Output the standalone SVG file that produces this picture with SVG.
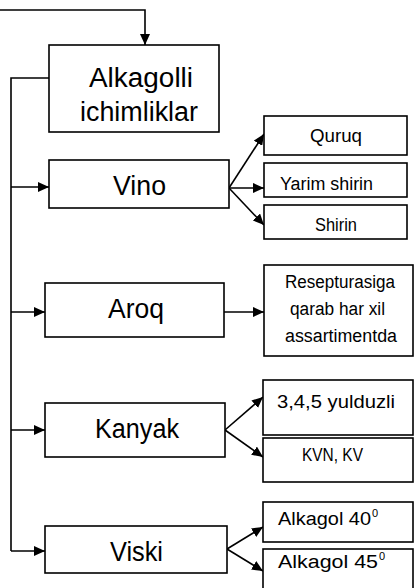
<svg xmlns="http://www.w3.org/2000/svg" width="415" height="588" viewBox="0 0 415 588">
  <style>
    .box { fill: #ffffff; stroke: #000000; stroke-width: 1.6; }
    .big { font-family: "Liberation Sans", Arial, sans-serif; font-size: 27px; fill: #000000; }
    .small { font-family: "Liberation Sans", Arial, sans-serif; font-size: 18px; fill: #000000; }
    .sup { font-family: "Liberation Sans", Arial, sans-serif; font-size: 11px; fill: #000000; }
    .wire { fill: none; stroke: #000000; stroke-width: 1.6; }
  </style>
  <defs>
    <marker id="arrow" markerUnits="userSpaceOnUse" markerWidth="11" markerHeight="10" refX="11" refY="5" orient="auto">
      <path d="M0,0 L11,5 L0,10 Z" fill="#000000"/>
    </marker>
  </defs>
  <rect width="415" height="588" fill="#ffffff"/>

  <!-- connectors -->
  <g id="connectors">
    <path class="wire" d="M0,10 H145 V45" marker-end="url(#arrow)"/>
    <path class="wire" d="M49,78 H11 V551"/>
    <line class="wire" x1="11" y1="187" x2="49" y2="187" marker-end="url(#arrow)"/>
    <line class="wire" x1="11" y1="312" x2="45" y2="312" marker-end="url(#arrow)"/>
    <line class="wire" x1="11" y1="430" x2="45" y2="430" marker-end="url(#arrow)"/>
    <line class="wire" x1="11" y1="551" x2="45" y2="551" marker-end="url(#arrow)"/>
    <!-- Vino branches -->
    <line class="wire" x1="229" y1="188" x2="264" y2="134" marker-end="url(#arrow)"/>
    <line class="wire" x1="229" y1="188" x2="264" y2="188" marker-end="url(#arrow)"/>
    <line class="wire" x1="229" y1="188" x2="264" y2="225" marker-end="url(#arrow)"/>
    <!-- Aroq branch -->
    <line class="wire" x1="224" y1="312" x2="264" y2="312" marker-end="url(#arrow)"/>
    <!-- Kanyak branches -->
    <line class="wire" x1="225" y1="430" x2="263" y2="397" marker-end="url(#arrow)"/>
    <line class="wire" x1="225" y1="430" x2="263" y2="457" marker-end="url(#arrow)"/>
    <!-- Viski branches -->
    <line class="wire" x1="227" y1="549" x2="263" y2="527" marker-end="url(#arrow)"/>
    <line class="wire" x1="227" y1="549" x2="263" y2="571" marker-end="url(#arrow)"/>
  </g>

  <g id="alkagolli">
    <rect class="box" x="49" y="45" width="170" height="87"/>
    <text class="big" x="89" y="87" textLength="104" lengthAdjust="spacingAndGlyphs">Alkagolli</text>
    <text class="big" x="80" y="121" textLength="118" lengthAdjust="spacingAndGlyphs">ichimliklar</text>
  </g>
  <g id="vino">
    <rect class="box" x="49" y="160" width="180" height="48"/>
    <text class="big" x="113" y="195" textLength="53" lengthAdjust="spacingAndGlyphs">Vino</text>
  </g>
  <g id="aroq">
    <rect class="box" x="45" y="283" width="179" height="54"/>
    <text class="big" x="108" y="318" textLength="56" lengthAdjust="spacingAndGlyphs">Aroq</text>
  </g>
  <g id="kanyak">
    <rect class="box" x="45" y="403" width="180" height="54"/>
    <text class="big" x="95" y="438" textLength="84" lengthAdjust="spacingAndGlyphs">Kanyak</text>
  </g>
  <g id="viski">
    <rect class="box" x="45" y="526" width="182" height="47"/>
    <text class="big" x="110" y="561" textLength="53" lengthAdjust="spacingAndGlyphs">Viski</text>
  </g>

  <g id="quruq">
    <rect class="box" x="264" y="116" width="143" height="39"/>
    <text class="small" x="310" y="142" textLength="52" lengthAdjust="spacingAndGlyphs">Quruq</text>
  </g>
  <g id="yarim-shirin">
    <rect class="box" x="264" y="163" width="143" height="34"/>
    <text class="small" x="280" y="190" textLength="93" lengthAdjust="spacingAndGlyphs">Yarim shirin</text>
  </g>
  <g id="shirin">
    <rect class="box" x="264" y="205" width="143" height="34"/>
    <text class="small" x="315" y="231" textLength="42" lengthAdjust="spacingAndGlyphs">Shirin</text>
  </g>
  <g id="resepturasiga">
    <rect class="box" x="264" y="265" width="149" height="91"/>
    <text class="small" x="285" y="288" textLength="110" lengthAdjust="spacingAndGlyphs">Resepturasiga</text>
    <text class="small" x="290" y="315" textLength="95" lengthAdjust="spacingAndGlyphs">qarab har xil</text>
    <text class="small" x="285" y="342" textLength="112" lengthAdjust="spacingAndGlyphs">assartimentda</text>
  </g>
  <g id="yulduzli">
    <rect class="box" x="263" y="380" width="150" height="55"/>
    <text class="small" x="277" y="408" textLength="118" lengthAdjust="spacingAndGlyphs">3,4,5 yulduzli</text>
  </g>
  <g id="kvn-kv">
    <rect class="box" x="263" y="438" width="150" height="44"/>
    <text class="small" x="302" y="461" textLength="61" lengthAdjust="spacingAndGlyphs">KVN, KV</text>
  </g>
  <g id="alkagol-40">
    <rect class="box" x="263" y="502" width="150" height="40"/>
    <text class="small" x="278" y="525" textLength="93" lengthAdjust="spacingAndGlyphs">Alkagol 40</text>
    <text class="sup" x="372" y="517">0</text>
  </g>
  <g id="alkagol-45">
    <rect class="box" x="263" y="549" width="150" height="45"/>
    <text class="small" x="278" y="568" textLength="100" lengthAdjust="spacingAndGlyphs">Alkagol  45</text>
    <text class="sup" x="379" y="560">0</text>
  </g>
</svg>
